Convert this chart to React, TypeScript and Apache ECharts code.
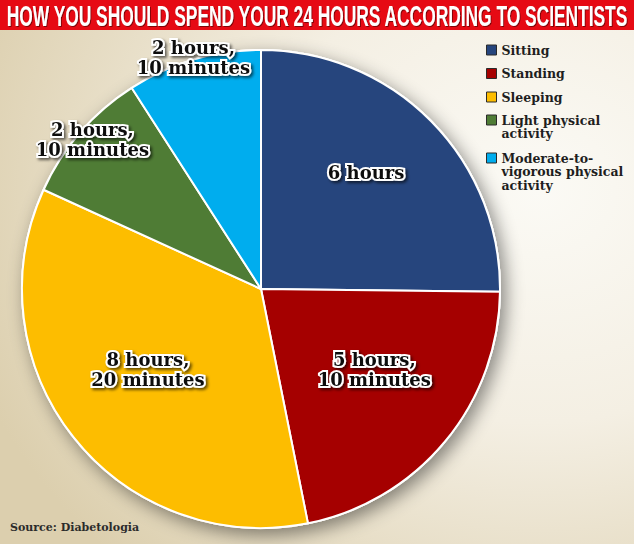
import React, { useEffect, useRef } from 'react';
import * as echarts from 'echarts';

const TITLE = 'HOW YOU SHOULD SPEND YOUR 24 HOURS ACCORDING TO SCIENTISTS';
const SOURCE = 'Source: Diabetologia';
const categories = [
  'Sitting',
  'Standing',
  'Sleeping',
  'Light physical activity',
  'Moderate-to-vigorous physical activity',
];
const legendLabels = [
  'Sitting',
  'Standing',
  'Sleeping',
  'Light physical\nactivity',
  'Moderate-to-\nvigorous physical\nactivity',
];
// minutes per day
const minutes = [360, 310, 500, 130, 130];

const colors = ['#26457d', '#a50000', '#fdbd00', '#4f7c35', '#00adee'];
const labelOffsets = [
  [18, -30],
  [19, 2],
  [-17, 4],
  [-76, -69],
  [-33, -114],
];

function fmt(m: number): string {
  const h = Math.floor(m / 60);
  const mm = m % 60;
  return mm ? `${h} hours,\n${mm} minutes` : `${h} hours`;
}

export default function App() {
  const ref = useRef<HTMLDivElement>(null);
  useEffect(() => {
    if (!ref.current) return;
    const chart = echarts.init(ref.current, undefined, { renderer: 'svg' });
    const titleFont = 'bold 30px "Liberation Sans Narrow", "Liberation Sans", sans-serif';
    let scaleX = 0.7;
    const ctx = document.createElement('canvas').getContext('2d');
    if (ctx) {
      ctx.font = titleFont;
      const w = ctx.measureText(TITLE).width;
      if (w > 0) scaleX = 622 / w;
    }
    const total = minutes.reduce((a, b) => a + b, 0);
    const serif = '"DejaVu Serif", serif';
    const LH = 13.5;
    const legendText = {
      fontFamily: serif,
      fontWeight: 'bold',
      fontSize: 12.5,
      lineHeight: LH,
      color: '#1e1e1e',
    };
    const fmtLegend = (n: string) => legendLabels[categories.indexOf(n)];
    const base = {
      orient: 'vertical',
      left: 486,
      padding: 0,
      itemWidth: 10,
      selectedMode: false,
      itemStyle: { borderColor: '#2a2a2a', borderWidth: 1 },
      formatter: fmtLegend,
      textStyle: legendText,
    };
    // icon square sits level with the first text line
    const sq = (LH - 10) / 2;
    const tallIcon = (h: number) => `path://M0,0M10,${h}M0,${sq}h10v10h-10z`;

    const legends = [
      {
        ...base,
        data: categories.slice(0, 3),
        top: 43.25,
        itemHeight: 10,
        itemGap: 10,
        icon: 'rect',
      },
      {
        ...base,
        data: [categories[3]],
        top: 112.75,
        itemHeight: 2 * LH,
        icon: tallIcon(2 * LH),
      },
      {
        ...base,
        data: [categories[4]],
        top: 150.75,
        itemHeight: 3 * LH,
        icon: tallIcon(3 * LH),
      },
    ];

    chart.setOption({
      animation: false,
      backgroundColor: {
        type: 'radial',
        x: 0.85,
        y: 0.35,
        r: 0.95,
        colorStops: [
          { offset: 0, color: '#fbfaf5' },
          { offset: 0.45, color: '#f4efe3' },
          { offset: 1, color: '#dccfae' },
        ],
      },
      legend: legends,
      graphic: [
        {
          type: 'rect',
          left: 0,
          top: 0,
          shape: { width: 634, height: 30 },
          style: { fill: '#e60a14' },
          z: 10,
        },
        {
          type: 'text',
          x: 317,
          y: 15.5,
          scaleX,
          z: 11,
          style: {
            text: TITLE,
            font: titleFont,
            fill: '#ffffff',
            align: 'center',
            verticalAlign: 'middle',
            textShadowColor: 'rgba(60,0,0,0.6)',
            textShadowBlur: 1,
            textShadowOffsetX: 1,
            textShadowOffsetY: 1,
          },
        },
        {
          type: 'text',
          x: 10,
          y: 527,
          z: 11,
          style: {
            text: SOURCE,
            font: `bold 11px ${serif}`,
            fill: '#2b2b2b',
            align: 'left',
            verticalAlign: 'middle',
          },
        },
      ],
      series: [
        {
          type: 'pie',
          silent: true,
          z: 1,
          center: [261, 289],
          radius: 240,
          startAngle: 90,
          label: { show: false },
          labelLine: { show: false },
          itemStyle: {
            color: '#ffffff',
            shadowBlur: 18,
            shadowColor: 'rgba(0,0,0,0.45)',
            shadowOffsetX: 5,
            shadowOffsetY: 6,
          },
          data: [{ value: total, name: '_total' }],
        },
        {
          type: 'pie',
          z: 2,
          center: [261, 289],
          radius: 239,
          startAngle: 90,
          clockwise: true,
          avoidLabelOverlap: false,
          emphasis: { disabled: true },
          itemStyle: { borderColor: '#ffffff', borderWidth: 2 },
          labelLine: { show: false },
          label: {
            show: true,
            position: 'inside',
            formatter: (p: any) => fmt(p.value),
            fontFamily: serif,
            fontWeight: 'bold',
            fontSize: 18,
            lineHeight: 20,
            color: '#111111',
            textBorderColor: '#ffffff',
            textBorderWidth: 4,
            textShadowColor: 'rgba(0,0,0,0.6)',
            textShadowBlur: 3,
            textShadowOffsetX: 2,
            textShadowOffsetY: 2,
          },
          data: categories.map((name, i) => ({
            name,
            value: minutes[i],
            itemStyle: { color: colors[i] },
            label: { offset: labelOffsets[i] },
          })),
        },
      ],
    });
    return () => chart.dispose();
  }, []);
  return (
    <div
      ref={ref}
      style={{ position: 'absolute', left: 0, top: 0, width: 634, height: 544 }}
    />
  );
}
